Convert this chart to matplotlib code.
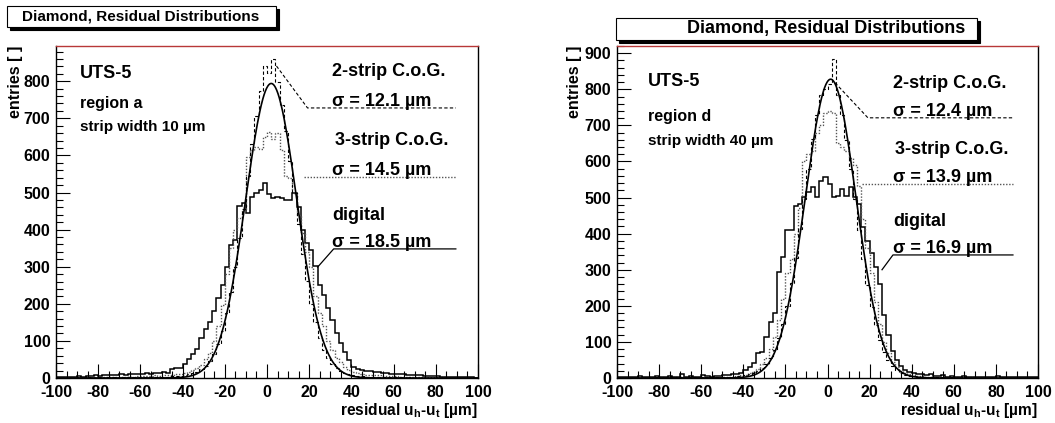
import numpy as np
import matplotlib
matplotlib.use('Agg')
import matplotlib.pyplot as plt
from matplotlib.patches import Rectangle
from matplotlib.ticker import MultipleLocator

plt.rcParams['font.family'] = ['Liberation Sans', 'DejaVu Sans']
plt.rcParams['font.weight'] = 'bold'
plt.rcParams['axes.unicode_minus'] = False
plt.rcParams['mathtext.fontset'] = 'custom'
plt.rcParams['mathtext.rm'] = 'Liberation Sans:bold'
plt.rcParams['mathtext.it'] = 'Liberation Sans:bold'
plt.rcParams['mathtext.bf'] = 'Liberation Sans:bold'

# ---------------- data ----------------
bin_lo, bin_hi, bin_w = -100, 100, 2

# region a (strip width 10 um)
digital_a = [2, 3, 2, 4, 3, 5, 4, 6, 5, 7, 6, 8, 7, 9, 8, 10, 9, 11, 10, 12, 11, 13, 12, 14, 13, 15, 14,
             25, 28, 28, 38, 51, 65, 78, 109, 132, 152, 181, 216, 251, 298, 359, 373,
             463, 473, 446, 489, 500, 508, 527, 497, 484, 489, 486, 480, 480, 500, 462, 400, 365, 346, 301, 251,
             224, 189, 157, 121, 94, 71, 49, 31, 25, 22,
             20, 18, 17, 15, 14, 13, 12, 11, 10, 10, 9, 8, 8, 7, 6, 6, 5, 5, 4, 4, 3, 3, 3, 2, 2, 2, 1]
cog3_a = [1, 1, 2, 1, 2, 2, 1, 2, 3, 2, 3, 2, 3, 4, 3, 4, 4, 5, 4, 5, 6, 5, 6, 7, 6, 7, 8,
          8, 10, 11, 13, 17, 21, 27, 36, 50, 67, 100, 139, 197, 280, 351, 400,
          430, 450, 595, 615, 624, 618, 650, 662, 645, 660, 615, 545, 540, 500, 440, 390, 340, 300, 220, 175,
          139, 100, 76, 55, 42, 31, 22, 17, 13, 11,
          9, 8, 7, 7, 6, 6, 5, 5, 4, 4, 4, 3, 3, 3, 3, 2, 2, 2, 2, 2, 1, 1, 1, 1, 1, 1, 1]
cog2_a = [1, 0, 1, 1, 0, 1, 1, 2, 1, 1, 2, 1, 2, 2, 1, 2, 3, 2, 2, 3, 3, 2, 3, 4, 3, 4, 4,
          5, 5, 6, 8, 10, 13, 17, 24, 32, 45, 64, 92, 128, 175, 232, 300,
          378, 455, 545, 630, 705, 775, 840, 822, 860, 797, 735, 665, 585, 500, 415, 335, 262, 200, 150, 108,
          76, 53, 37, 26, 19, 14, 10, 8, 6, 5,
          4, 4, 3, 3, 3, 2, 2, 2, 2, 1, 2, 1, 1, 1, 1, 1, 0, 1, 1, 0, 1, 0, 1, 0, 0, 1, 0]
fit_a = dict(amp=794, mean=2.0, sigma=12.1)

# region d (strip width 40 um)
digital_d = [3, 2, 4, 3, 2, 5, 3, 4, 3, 6, 4, 3, 5, 4, 3, 10, 4, 5, 3, 4, 8, 5, 4, 6, 5, 8, 7,
             10, 12, 14, 22, 30, 41, 69, 73, 114, 155, 179, 294, 334, 409, 409, 478,
             483, 501, 515, 528, 501, 547, 556, 538, 501, 505, 524, 505, 528, 501, 483, 418, 381, 345, 307, 260,
             175, 120, 75, 50, 32, 22, 16, 14, 12, 10,
             8, 10, 6, 5, 7, 4, 5, 3, 4, 6, 3, 4, 3, 2, 4, 3, 2, 5, 3, 2, 3, 4, 2, 3, 2, 3, 2]
cog3_d = [1, 0, 1, 1, 1, 2, 1, 1, 2, 1, 2, 2, 1, 2, 2, 3, 2, 2, 3, 2, 3, 3, 3, 4, 3, 4, 4,
          4, 5, 7, 9, 13, 18, 26, 38, 55, 80, 115, 160, 220, 290, 330, 400,
          470, 600, 620, 630, 680, 700, 735, 740, 735, 650, 640, 630, 610, 590, 533, 440, 360, 290, 210, 150,
          100, 70, 45, 30, 20, 14, 10, 8, 6, 5,
          4, 4, 3, 3, 3, 2, 3, 2, 2, 2, 1, 2, 1, 1, 2, 1, 1, 1, 0, 1, 1, 0, 1, 0, 1, 0, 0]
cog2_d = [0, 1, 0, 1, 1, 0, 1, 1, 1, 2, 1, 1, 2, 1, 2, 2, 1, 2, 2, 3, 2, 3, 3, 2, 3, 4, 3,
          4, 5, 6, 8, 11, 14, 19, 27, 38, 55, 78, 110, 150, 200, 262, 333,
          412, 495, 580, 662, 728, 785, 800, 815, 885, 784, 730, 660, 580, 495, 410, 330, 259, 197, 146, 105,
          73, 50, 33, 21, 13, 8, 6, 5, 4, 3,
          3, 2, 3, 2, 2, 1, 2, 1, 1, 2, 1, 1, 1, 0, 1, 1, 0, 1, 0, 1, 0, 1, 0, 0, 1, 0, 0]
fit_d = dict(amp=828, mean=1.5, sigma=12.0)

title = "Diamond, Residual Distributions"
x_ticks = list(range(-100, 101, 20))
sig_a = ["12.1", "14.5", "18.5"]
sig_d = ["12.4", "13.9", "16.9"]

# ---------------- figure ----------------
W, H = 1055, 423
fig = plt.figure(figsize=(W / 100, H / 100), dpi=100)
fig.patch.set_facecolor('white')


def px_axes(x0, x1, ytop, ybot):
    return fig.add_axes([x0 / W, 1 - ybot / H, (x1 - x0) / W, (ybot - ytop) / H])


def title_box(x0, y0, x1, y1, tx, size):
    sh = 3
    fig.patches.append(Rectangle((x0 / W + sh / W, 1 - (y1 + sh) / H), (x1 - x0) / W, (y1 - y0) / H,
                                 transform=fig.transFigure, facecolor='black', edgecolor='black', lw=0.8))
    fig.patches.append(Rectangle((x0 / W, 1 - y1 / H), (x1 - x0) / W, (y1 - y0) / H,
                                 transform=fig.transFigure, facecolor='white', edgecolor='black', lw=0.8))
    fig.text(tx / W, 1 - (y0 + y1) / 2 / H, title, ha='center', va='center', fontsize=size,
             fontweight='bold')


edges = np.arange(bin_lo, bin_hi + bin_w, bin_w)
xf = np.linspace(bin_lo, bin_hi, 1001)


def panel(ax, ymax, dig, c3, c2, fit, region, width, sigs, ann, ylab_x):
    ax.stairs(dig, edges, color='black', lw=1.1, baseline=None)
    ax.stairs(c3, edges, color='#555555', lw=1.0, ls=(0, (1, 1.2)), baseline=None)
    ax.stairs(c2, edges, color='black', lw=0.8, ls=(0, (3, 2)), baseline=None)
    ax.plot(xf, fit['amp'] * np.exp(-(xf - fit['mean']) ** 2 / (2 * fit['sigma'] ** 2)),
            color='black', lw=1.2)
    ax.set_xlim(bin_lo, bin_hi)
    ax.set_ylim(0, ymax)
    ax.set_xticks(x_ticks)
    ax.xaxis.set_minor_locator(MultipleLocator(5))
    ax.yaxis.set_major_locator(MultipleLocator(100))
    ax.yaxis.set_minor_locator(MultipleLocator(20))
    ax.tick_params(which='both', direction='in', top=False, right=False, labelsize=11.5, width=0.8)
    ax.tick_params(which='major', length=10)
    ax.tick_params(which='minor', length=5)
    ax.tick_params(axis='x', pad=5)
    ax.tick_params(axis='y', pad=4)
    for sp in ('left', 'bottom', 'right'):
        ax.spines[sp].set_linewidth(1.0)
    ax.spines['top'].set_color('#b83838')
    ax.spines['top'].set_linewidth(1.0)
    ax.text(1.0, -0.068, r'residual u$_{\mathrm{h}}$-u$_{\mathrm{t}}$ [µm]', transform=ax.transAxes,
            ha='right', va='top', fontsize=11.2, fontweight='bold')
    ax.text(ylab_x, 1.0, 'entries [ ]', transform=ax.transAxes, rotation=90, ha='center', va='top',
            fontsize=11.5, fontweight='bold')
    # left block
    ax.text(ann['ux'], ann['uts'], 'UTS-5', fontsize=13, fontweight='bold', va='center')
    ax.text(ann['ux'], ann['reg'], region, fontsize=11.5, fontweight='bold', va='center')
    ax.text(ann['ux'], ann['sw'], width, fontsize=11, fontweight='bold', va='center')
    # right labels + connectors
    lx = ann['lx']
    ax.text(lx, ann['t2'], '2-strip C.o.G.', fontsize=13, fontweight='bold', va='center')
    ax.text(lx, ann['l2'] + 6, 'σ = %s µm' % sigs[0], fontsize=13, fontweight='bold', va='baseline')
    ax.plot([ann['p2'][0], ann['k2'], ann['xe']], [ann['p2'][1], ann['l2'], ann['l2']],
            color='black', lw=0.8, ls=(0, (3, 2)))
    ax.text(lx + 1, ann['t3'], '3-strip C.o.G.', fontsize=13, fontweight='bold', va='center')
    ax.text(lx, ann['l3'] + 4, 'σ = %s µm' % sigs[1], fontsize=13, fontweight='bold', va='baseline')
    ax.plot([ann['k3'], ann['xe']], [ann['l3'], ann['l3']], color='#555555', lw=1.0, ls=(0, (1, 1.2)))
    ax.text(lx, ann['td'], 'digital', fontsize=13, fontweight='bold', va='center')
    ax.text(lx, ann['ld'] + 6, 'σ = %s µm' % sigs[2], fontsize=13, fontweight='bold', va='baseline')
    ax.plot([ann['pd'][0], ann['kd'], ann['xe']], [ann['pd'][1], ann['ld'], ann['ld']],
            color='black', lw=0.9)


axL = px_axes(56, 478, 46, 378)
panel(axL, 895, digital_a, cog3_a, cog2_a, fit_a, 'region a', 'strip width 10 µm', sig_a,
      dict(ux=-88.5, uts=822, reg=741, sw=677, lx=31.0,
           t2=825, l2=728, p2=(4.5, 841), k2=19.2,
           t3=639, l3=542, k3=17.3,
           td=439, ld=348, pd=(24.0, 299), kd=31.6, xe=89.5), -0.095)

axR = px_axes(617, 1038, 46, 378)
panel(axR, 920, digital_d, cog3_d, cog2_d, fit_d, 'region d', 'strip width 40 µm', sig_d,
      dict(ux=-85.3, uts=821, reg=724, sw=657, lx=31.1,
           t2=815, l2=721, p2=(3.6, 818), k2=19.2,
           t3=632, l3=538, k3=16.4,
           td=433, ld=341, pd=(25.9, 300), kd=31.1, xe=88.1), -0.102)

title_box(7, 6, 276, 27, 141, 11)
title_box(616, 18, 977, 40, 826, 13)

fig.savefig('out.png', dpi=100)
